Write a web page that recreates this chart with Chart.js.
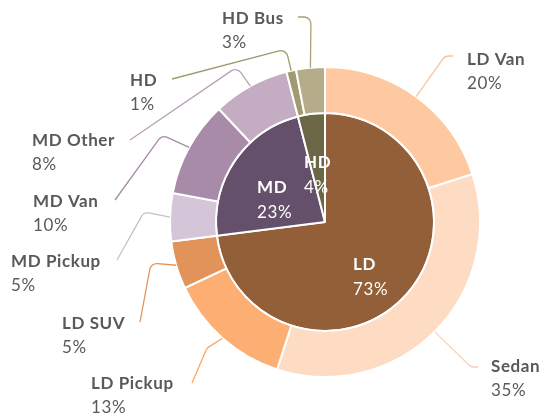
<!DOCTYPE html>
<html>
<head>
<meta charset="utf-8">
<script src="https://cdn.jsdelivr.net/npm/chart.js@4/dist/chart.umd.min.js"></script>
<style>
  html, body { margin: 0; padding: 0; background: #ffffff; }
  #wrap { width: 545px; height: 416px; position: relative; }
</style>
</head>
<body>
<div id="wrap"><canvas id="c" width="545" height="416"></canvas></div>
<script>
// ---- Data ----
const mainCategories = ['LD', 'MD', 'HD'];
const mainValues = [73, 23, 4];
const subCategories = ['LD Van', 'Sedan', 'LD Pickup', 'LD SUV', 'MD Pickup', 'MD Van', 'MD Other', 'HD', 'HD Bus'];
const subValues = [20, 35, 13, 5, 5, 10, 8, 1, 3];

// ---- Styles ----
const mainColors = ['#925f38', '#65506b', '#6b6746'];
const subColors = ['#fec9a0', '#fedcc4', '#fdae72', '#e2935a', '#d5c5d8', '#a88ba9', '#c4adc3', '#a19a6e', '#b5ad89'];
const leaderColors = ['#fcc39a', '#f8d2b8', '#f7a86c', '#e2935a', '#cdbcd0', '#a88ba9', '#b9a2b9', '#a19a6e', '#a8a07a'];

// label layout (offsets from the pie centre, px): text block left x / title centre y,
// leader line bend point and end point
const subLabelLayout = [
  { lx: 142, ly: -162, bx: 120, by: -166, ex: 128, ey: -166 },
  { lx: 166, ly: 145, bx: 146, by: 145, ex: 153, ey: 145 },
  { lx: -234, ly: 162, bx: -118, by: 126, ex: -133, ey: 161 },
  { lx: -263, ly: 102, bx: -174, by: 41, ex: -185, ey: 100 },
  { lx: -314, ly: 40, bx: -181, by: -10, ex: -208, ey: 38 },
  { lx: -292, ly: -20, bx: -163, by: -87, ex: -210, ey: -22 },
  { lx: -293, ly: -81, bx: -88, by: -155, ex: -195, ey: -82 },
  { lx: -195, ly: -141, bx: -39, by: -173, ex: -153, ey: -143 },
  { lx: -103, ly: -203, bx: -14, by: -205, ex: -27, ey: -205 }
];
const mainLabelLayout = [
  { lx: 28, ly: 43 },
  { lx: -68, ly: -34 },
  { lx: -21, ly: -59 }
];

const FONT = 'Lato, "Open Sans", sans-serif';
const FONT_SIZE = 17;
const LINE_GAP = 24;

function pct(v) { return v + '%'; }

function setFont(ctx, bold) {
  ctx.font = (bold ? 'bold ' : '') + FONT_SIZE + 'px ' + FONT;
  try { ctx.letterSpacing = '0.6px'; } catch (e) {}
}

const labelPlugin = {
  id: 'extLabels',
  afterDraw(chart) {
    const ctx = chart.ctx;
    const outer = chart.getDatasetMeta(0);
    const inner = chart.getDatasetMeta(1);
    ctx.save();
    // outer ring labels with leader lines
    outer.data.forEach((arc, i) => {
      const p = arc.getProps(['x', 'y', 'startAngle', 'endAngle', 'outerRadius'], true);
      const a = (p.startAngle + p.endAngle) / 2;
      const sx = p.x + p.outerRadius * Math.cos(a);
      const sy = p.y + p.outerRadius * Math.sin(a);
      const L = subLabelLayout[i];
      ctx.beginPath();
      ctx.strokeStyle = leaderColors[i];
      ctx.lineWidth = 1.3;
      ctx.moveTo(sx, sy);
      ctx.arcTo(p.x + L.bx, p.y + L.by, p.x + L.ex, p.y + L.ey, 7);
      ctx.lineTo(p.x + L.ex, p.y + L.ey);
      ctx.stroke();

      ctx.textAlign = 'left';
      ctx.textBaseline = 'middle';
      ctx.fillStyle = '#595959';
      setFont(ctx, true);
      ctx.fillText(subCategories[i], p.x + L.lx, p.y + L.ly);
      setFont(ctx, false);
      ctx.fillText(pct(subValues[i]), p.x + L.lx, p.y + L.ly + LINE_GAP);
    });
    // inner pie labels
    inner.data.forEach((arc, i) => {
      const p = arc.getProps(['x', 'y'], true);
      const L = mainLabelLayout[i];
      ctx.textAlign = 'left';
      ctx.textBaseline = 'middle';
      ctx.fillStyle = '#ffffff';
      setFont(ctx, true);
      ctx.fillText(mainCategories[i], p.x + L.lx, p.y + L.ly);
      setFont(ctx, false);
      ctx.fillText(pct(mainValues[i]), p.x + L.lx, p.y + L.ly + 25);
    });
    ctx.restore();
  }
};

new Chart(document.getElementById('c'), {
  type: 'doughnut',
  data: {
    labels: subCategories,
    datasets: [
      {
        label: 'Sub',
        data: subValues,
        backgroundColor: subColors,
        borderColor: '#ffffff',
        borderWidth: 2,
        weight: 46
      },
      {
        label: 'Main',
        data: mainValues,
        backgroundColor: mainColors,
        borderColor: '#ffffff',
        borderWidth: 2,
        weight: 109
      }
    ]
  },
  options: {
    responsive: false,
    animation: false,
    cutout: 0,
    layout: { padding: { left: 169, right: 64, top: 66, bottom: 38 } },
    plugins: {
      legend: { display: false },
      tooltip: { enabled: false }
    }
  },
  plugins: [labelPlugin]
});
</script>
</body>
</html>
